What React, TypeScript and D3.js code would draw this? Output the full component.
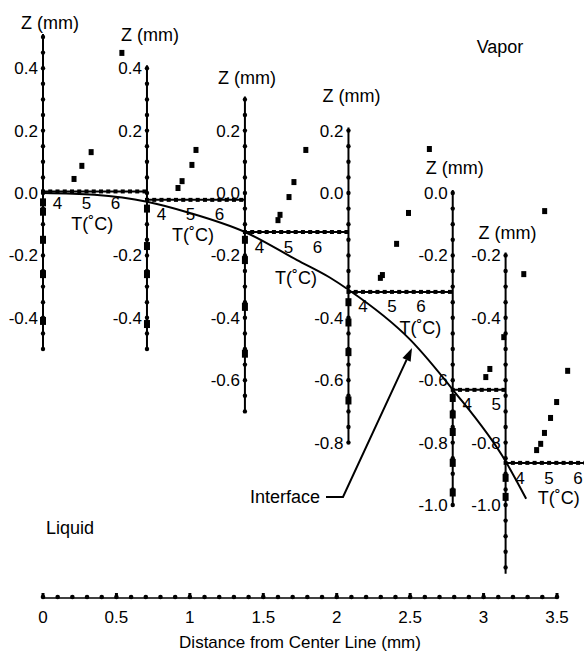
import React from "react";
import * as d3 from "d3";

// distance (mm) of each temperature profile and height of its T axis (interface)
const profileX = [0, 0.708, 1.375, 2.08, 2.79, 3.15];
const profileZ = [0.005, -0.022, -0.125, -0.317, -0.631, -0.865];
const axisTop = [0.5, 0.4, 0.3, 0.2, 0.0, -0.2];
const axisBottom = [-0.5, -0.5, -0.7, -0.8, -1.0, -1.22];
const zTickLabels = [
  [0.4, 0.2, 0, -0.2, -0.4],
  [0.4, 0.2, -0.2, -0.4],
  [0.2, 0, -0.2, -0.4, -0.6],
  [0.2, 0, -0.4, -0.6, -0.8],
  [0, -0.2, -0.6, -0.8, -1.0],
  [-0.2, -0.4, -0.8, -1.0],
];
const tTickLabels = [[4, 5, 6], [4, 5, 6], [4, 5, 6], [4, 5, 6], [4, 5], [4, 5, 6]];

// vapor side temperatures (°C) and heights (mm)
const vaporT = [
  [4.57, 4.84, 5.16, 6.22],
  [4.57, 4.71, 5.05, 5.19],
  [4.64, 4.71, 5.02, 5.19, 5.6],
  [4.6, 4.67, 5.16, 5.57, 6.29],
  [4.64, 4.78, 5.26, 5.95, 6.67],
  [4.57, 4.71, 4.84, 5.05, 5.26, 5.64],
];
const vaporZ = [
  [0.045, 0.087, 0.131, 0.449],
  [0.016, 0.038, 0.09, 0.138],
  [-0.087, -0.07, -0.013, 0.035, 0.138],
  [-0.272, -0.263, -0.163, -0.064, 0.141],
  [-0.59, -0.564, -0.462, -0.26, -0.058],
  [-0.824, -0.804, -0.769, -0.721, -0.67, -0.57],
];
// liquid side points (T ~ 3.5 °C, sit on the Z axes)
const liquidZ = [
  [-0.03, -0.06, -0.15, -0.26, -0.41],
  [-0.05, -0.17, -0.26, -0.42],
  [-0.15, -0.215, -0.365, -0.515],
  [-0.35, -0.415, -0.51, -0.665],
  [-0.657, -0.71, -0.766, -0.865, -0.96],
  [-0.913, -0.974],
];

// interface shape
const curveX = [0, 0.35, 0.708, 1.0, 1.375, 1.73, 1.95, 2.08, 2.5, 2.79, 3.15, 3.29];
const curveZ = [0, -0.006, -0.028, -0.064, -0.125, -0.215, -0.27, -0.31, -0.47, -0.63, -0.86, -0.98];

const distTicks = [0, 0.5, 1, 1.5, 2, 2.5, 3, 3.5];

const W = 584;
const H = 652;
const FONT = "'Liberation Sans', Arial, Helvetica, sans-serif";
const FS = 17;
const FL = 18;

// T(°C) label placement per panel: [T, dy] (null = none)
const tTitlePos: ([number, number] | null)[] = [[5.2, 32], [5.09, 35], [5.26, 46], [5.98, 36], null, [5.33, 35]];
const tTickDy = [12, 14, 15, 14, 14, 15];
// Z (mm) title offset above axis top, and sideways
const zTitleDy = [-14, -34, -22, -35, -25, -23];
const zTitleDx = [7, 3, 2, 3, 2, 2];

const App = () => {
  const x = d3.scaleLinear().domain([0, 3.5]).range([43, 557]);
  const z = d3.scaleLinear().domain([0, -1]).range([193, 505]);
  const t = d3.scaleLinear().domain([3.5, 4.5]).range([0, 29]);

  const line = d3
    .line<number>()
    .x((d) => x(d))
    .y((d, i) => z(curveZ[i]))
    .curve(d3.curveMonotoneX);

  const fmt = (v: number) => (v === 0 ? "0.0" : v.toFixed(1));

  // arrow annotation
  const tail = [326, 497];
  const bend = [343, 497];
  const tip = [412, 348];
  const ang = Math.atan2(tip[1] - bend[1], tip[0] - bend[0]);
  const hl = 13;
  const hw = 4.5;
  const bx = tip[0] - hl * Math.cos(ang);
  const by = tip[1] - hl * Math.sin(ang);
  const head = [
    [tip[0], tip[1]],
    [bx + hw * Math.sin(ang), by - hw * Math.cos(ang)],
    [bx - hw * Math.sin(ang), by + hw * Math.cos(ang)],
  ];

  return (
    <svg
      width={W}
      height={H}
      style={{ position: "absolute", left: 0, top: 0, background: "#fff" }}
      fontFamily={FONT}
      fontSize={FS}
    >
      {/* profiles */}
      {profileX.map((px, i) => {
        const ax = x(px);
        const ly = z(profileZ[i]);
        const endX = i < profileX.length - 1 ? x(profileX[i + 1]) : W + 5;
        const zDots = d3.range(Math.round(axisTop[i] * 20), Math.round(axisBottom[i] * 20) - 1, -1).map((k) => k / 20);
        const tMax = t.invert(endX - ax);
        const tDots = d3.range(3.5, tMax + 0.01, 0.25);
        const tp = tTitlePos[i];
        return (
          <g key={i}>
            {/* T axis */}
            <line x1={ax} x2={endX} y1={ly} y2={ly} stroke="#000" strokeWidth={2} />
            {tDots.map((v, k) => (
              <rect key={k} x={ax + t(v) - 2} y={ly - 2} width={4} height={4} fill="#000" />
            ))}
            {tTickLabels[i].map((v) => (
              <text key={v} x={ax + t(v)} y={ly + tTickDy[i]} dy="0.35em" textAnchor="middle">
                {v}
              </text>
            ))}
            {tp && (
              <text x={ax + t(tp[0])} y={ly + tp[1]} dy="0.35em" textAnchor="middle" fontSize={FL}>
                T(˚C)
              </text>
            )}
            {/* Z axis */}
            <line x1={ax} x2={ax} y1={z(axisTop[i]) - 3} y2={z(axisBottom[i])} stroke="#000" strokeWidth={2} />
            {zDots.map((v, k) => (
              <circle key={k} cx={ax} cy={z(v)} r={2.2} fill="#000" />
            ))}
            {zTickLabels[i].map((v) => (
              <text key={v} x={ax - 5} y={z(v)} dy="0.35em" textAnchor="end">
                {fmt(v)}
              </text>
            ))}
            <text
              x={ax + zTitleDx[i]}
              y={z(axisTop[i]) + zTitleDy[i]}
              dy="0.35em"
              textAnchor="middle"
              fontSize={FL}
            >
              Z (mm)
            </text>
            {/* data */}
            {liquidZ[i].map((v, k) => (
              <rect key={"l" + k} x={ax - 3} y={z(v) - 4} width={6} height={8} fill="#000" />
            ))}
            {vaporT[i].map((v, k) => (
              <rect key={"v" + k} x={ax + t(v) - 2.5} y={z(vaporZ[i][k]) - 3} width={5} height={6} fill="#000" />
            ))}
          </g>
        );
      })}

      {/* interface */}
      <path d={line(curveX) || ""} fill="none" stroke="#000" strokeWidth={2} />

      {/* arrow */}
      <polyline
        points={[tail, bend, [bx, by]].map((p) => p.join(",")).join(" ")}
        fill="none"
        stroke="#000"
        strokeWidth={2}
      />
      <polygon points={head.map((p) => p.join(",")).join(" ")} fill="#000" />
      <text x={tail[0] - 6} y={tail[1]} dy="0.35em" textAnchor="end" fontSize={FL}>
        Interface
      </text>

      <text x={500} y={47} dy="0.35em" textAnchor="middle" fontSize={FL}>
        Vapor
      </text>
      <text x={70} y={528} dy="0.35em" textAnchor="middle" fontSize={FL}>
        Liquid
      </text>

      {/* distance axis */}
      <line x1={x(0)} x2={x(3.5)} y1={598} y2={598} stroke="#000" strokeWidth={1.5} />
      {d3.range(0, 36).map((k) => (
        <circle key={k} cx={x(k / 10)} cy={597} r={2.3} fill="#000" />
      ))}
      {distTicks.map((v) => (
        <g key={v}>
          <rect x={x(v) - 1.5} y={593} width={3} height={5} fill="#000" />
          <text x={x(v)} y={617} dy="0.35em" textAnchor="middle">
            {String(v)}
          </text>
        </g>
      ))}
      <text x={(x(0) + x(3.5)) / 2} y={642} dy="0.35em" textAnchor="middle">
        Distance from Center Line (mm)
      </text>
    </svg>
  );
};

export default App;
